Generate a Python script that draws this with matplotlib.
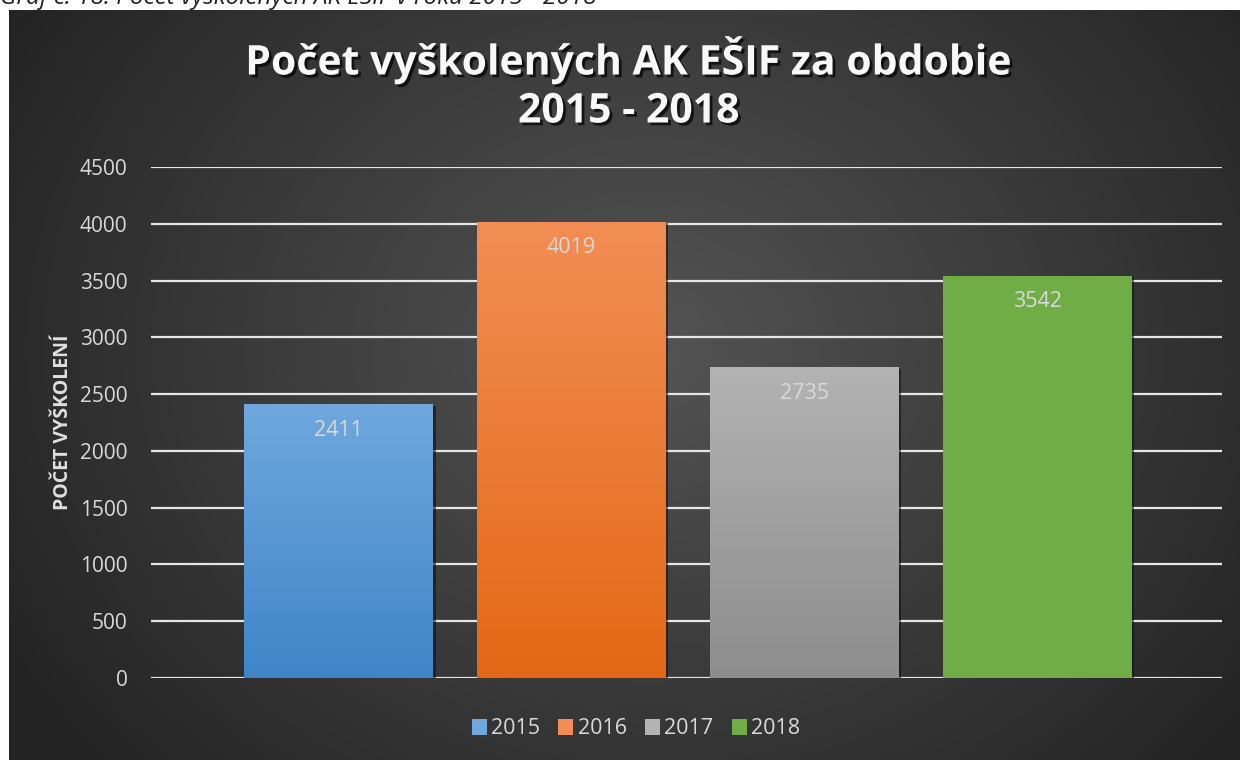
import numpy as np
import matplotlib
matplotlib.use("Agg")
import matplotlib.pyplot as plt
from matplotlib.colors import to_rgb
from matplotlib.patches import Patch
import matplotlib.patheffects as pe

plt.rcParams['font.family'] = ['Open Sans', 'DejaVu Sans']

years = ["2015", "2016", "2017", "2018"]
values = [2411, 4019, 2735, 3542]
top_colors = ["#70a8de", "#f28e55", "#b3b3b3", "#70ad47"]
bottom_colors = ["#3f85c8", "#e46815", "#8d8d8d", "#70ad47"]
yticks = [0, 500, 1000, 1500, 2000, 2500, 3000, 3500, 4000, 4500]
title_lines = ["Počet vyškolených AK EŠIF za obdobie", "2015 - 2018"]
ylabel = "POČET VYŠKOLENÍ"
caption = "Graf č. 18: Počet vyškolených AK EŠIF v roku 2015 - 2018"

W, H = 1240, 760
fig = plt.figure(figsize=(W / 100, H / 100), dpi=100)
fig.patch.set_facecolor("white")

# chart background (radial gradient)
bg = fig.add_axes([9 / W, 0, (W - 9) / W, (H - 10) / H])
bg.set_axis_off()
ny, nx = 300, 500
yy, xx = np.mgrid[0:ny, 0:nx]
cx, cy = nx * 0.52, ny * 0.55
r = np.sqrt(((xx - cx) / (nx * 0.62)) ** 2 + ((yy - cy) / (ny * 0.85)) ** 2)
r = np.clip(r, 0, 1)
c_in = np.array(to_rgb("#545454"))
c_out = np.array(to_rgb("#232323"))
img = c_in[None, None, :] * (1 - r[..., None]) + c_out[None, None, :] * r[..., None]
bg.imshow(img, aspect="auto", extent=[0, 1, 0, 1], origin="lower")
bg.set_xlim(0, 1)
bg.set_ylim(0, 1)

# caption (cut off at top, as in the reference)
fig.text(0.0, 1 - 4 / H, caption, fontsize=17.5, style="italic", color="#222222",
         ha="left", va="baseline")

ax = fig.add_axes([151 / W, 82 / H, (1222 - 151) / W, (678 - 167) / H])
ax.set_facecolor("none")
x = np.arange(len(years))
bw = 0.81
bars = ax.bar(x, values, width=bw, color=top_colors, zorder=3, linewidth=0)
for b, tc, bc in zip(bars, top_colors, bottom_colors):
    b.set_path_effects([pe.SimplePatchShadow(offset=(2, -1), shadow_rgbFace="#111111", alpha=0.6),
                        pe.Normal()])
    grad = np.linspace(0, 1, 256)[:, None]
    t = np.array(to_rgb(tc))
    bo = np.array(to_rgb(bc))
    gimg = bo[None, None, :] * (1 - grad[..., None]) + t[None, None, :] * grad[..., None]
    gimg = np.repeat(gimg, 2, axis=1)
    x0, y0 = b.get_x(), b.get_y()
    im = ax.imshow(gimg, extent=[x0, x0 + b.get_width(), y0, y0 + b.get_height()],
                   origin="lower", aspect="auto", zorder=4)
    im.set_clip_path(b)

for xi, v in zip(x, values):
    ax.text(xi, v - 135, str(v), ha="center", va="top", fontsize=15.5,
            color="#d9d9d9", zorder=6)

ax.set_xlim(-0.805, 3.794)
ax.set_ylim(0, 4500)
ax.set_yticks(yticks)
ax.set_xticks([])
ax.tick_params(axis="y", length=0, pad=17, labelsize=15, labelcolor="#d9d9d9")
ax.yaxis.grid(True, color="#e6e6e6", linewidth=1.6, zorder=1)
for s in ax.spines.values():
    s.set_visible(False)
ax.set_ylabel(ylabel, fontsize=14, fontweight="bold", color="#e0e0e0", labelpad=5)

shadow = [pe.withSimplePatchShadow(offset=(2, -2), shadow_rgbFace="#000000", alpha=0.7)]
fig.text(0.5 + 9 / W, 1 - 60 / H, title_lines[0],
         fontsize=29.5, fontweight="bold", color="#f8f8f8", ha="center", va="center",
         path_effects=shadow)
fig.text(0.5 + 9 / W, 1 - 112 / H, title_lines[1],
         fontsize=29.5, fontweight="bold", color="#f8f8f8", ha="center", va="center",
         path_effects=shadow)

handles = [Patch(facecolor=c, edgecolor="none") for c in top_colors]
leg = fig.legend(handles, years, loc="center", bbox_to_anchor=(636 / W, 1 - 729 / H),
                 ncol=4, frameon=False, fontsize=15.5, handlelength=0.7, handleheight=0.7,
                 handletextpad=0.2, columnspacing=0.85)
for t in leg.get_texts():
    t.set_color("#d9d9d9")

fig.savefig("out.png", dpi=100, facecolor=fig.get_facecolor())
